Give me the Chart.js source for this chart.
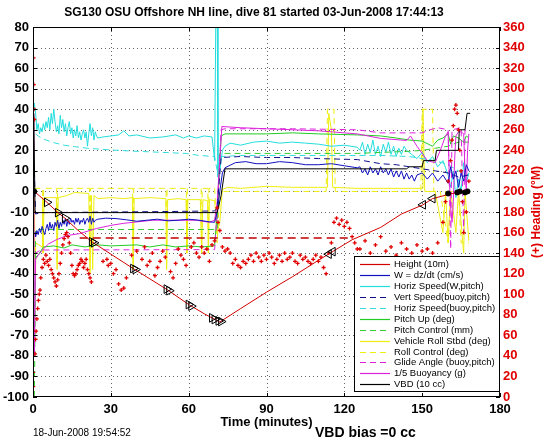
<!DOCTYPE html>
<html>
<head>
<meta charset="utf-8">
<script src="https://cdn.jsdelivr.net/npm/chart.js@4"></script>
<style>
  html, body { margin: 0; padding: 0; background: #fff; }
  canvas { display: block; }
</style>
</head>
<body>
<canvas id="diveChart" width="546" height="442"></canvas>
<script>
// Dive plot data, [time (min), value] pairs

const xTicks = [0, 30, 60, 90, 120, 150, 180];

const heightPts = [[0.5,0],[5.4,-5.3],[9.6,-10.3],[12.3,-13],[17,-18.5],[22.7,-24.5],[30,-30.5],[38.6,-37.5],[45,-42.5],[52,-48],[60,-55],[66,-59.5],[72,-63.5],[80,-57],[90,-49],[100,-41.5],[110,-33.5],[114.5,-30],[123,-23.5],[134,-17.5],[142,-11],[150.3,-6.5],[154,-3.5],[160,-1.5],[165,0],[168,0.5]];

const wPts = [[0.8,-20],[1,-22],[1.5,-19],[2,-21],[2.5,-18],[3,-20],[3.5,-17],[4,-19],[4.5,-21],[5,-18],[5.5,-16],[6,-19],[6.5,-15],[7,-18],[7.5,-16],[8,-19],[8.5,-15],[9,-17],[9.5,-14],[10,-18],[10.5,-15],[11,-17],[11.5,-14],[12,-16],[12.5,-13],[13,-17],[13.5,-14],[14,-16],[14.5,-13],[15,-15],[15.5,-14],[16,-16],[16.5,-13],[17,-15],[17.5,-13],[18,-16],[18.5,-14],[19,-15],[19.5,-13],[20,-16],[20.5,-14],[21,-13],[21.5,-15],[22,-12],[22.5,-16],[23,-13],[23.5,-15],[24,-14],[25,-13.5],[28,-13],[32,-13.2],[36,-13.8],[40,-14.5],[44,-14],[48,-13.5],[52,-14.3],[56,-14],[60,-13.5],[64,-14],[68,-14.8],[70,-15],[71,-10],[72,0],[73,9],[74,11.5],[78,14],[82,14.5],[86,13.5],[90,13.5],[95,14.5],[100,14],[105,13],[110,13],[115,13.5],[120,12.5],[125,11.5],[126,12],[127,9],[128,11],[129,8],[130,12],[131,9],[132,11],[133,8],[134,12],[135,9],[136,11],[137,8],[138,11],[139,7],[140,10],[141,7],[142,10],[143,6],[144,9],[145,6],[146,8],[147,5],[148,8],[150,9],[152,6],[154,9],[156,5],[158,8],[160,4],[161,12],[162,6],[163,10],[164,2],[165,9],[166,5],[167,13],[168,10]];

const horizSpeedPts = [[0.5,43],[1,38],[1.5,30],[2,33],[2.5,28],[3,31],[3.5,29],[4,33],[4.5,30],[5,34],[5.5,31],[6,36],[6.5,30],[7,38],[7.5,33],[8,40],[8.5,34],[9,29],[9.5,32],[10,28],[10.5,37],[11,31],[11.5,35],[12,29],[12.5,33],[13,27],[13.5,31],[14,34],[14.5,28],[15,31],[15.5,26],[16,30],[16.5,27],[17,32],[17.5,26],[18,29],[18.5,25],[19,28],[19.5,30],[20,26],[20.5,29],[21,22],[21.5,28],[22,33],[22.5,27],[23,31],[23.5,25],[24,29],[24.5,27],[25,26],[27,26.5],[30,27],[33,27.5],[35,29.5],[37,27],[40,27.5],[45,26],[50,26.5],[55,27.5],[58,26],[60,27],[63,26],[66,27],[69,26.5],[70,15],[70.5,90],[71,90],[71.3,7],[72,10],[73,20],[74,22],[76,23.5],[80,22.5],[85,24],[90,24.5],[95,23.5],[100,24],[105,23.5],[110,23],[115,22],[120,22.5],[125,21.5],[126,20],[127,24],[128,18],[129,23],[130,19],[131,25],[132,18],[133,22],[134,17],[135,23],[136,19],[137,24],[138,18],[139,22],[140,17],[141,21],[142,18],[143,22],[144,20],[146,18],[148,16],[150,19],[152,14],[154,17],[156,12],[158,15],[160,8],[161,2],[162,10],[163,-3],[164,6],[165,0],[166,14],[167,4],[168,9]];

const vertBuoyPts = [[0.5,10],[1,-11],[3,-10.3],[30,-10],[50,-9.8],[70,-9.5],[71,-8],[72.5,16.5],[80,17],[90,16.5],[100,16.5],[110,16],[125,15.5],[134,13.5],[140,13],[145,12],[150,11],[155,10],[160,9],[164,7],[168,8]];

const horizBuoyPts = [[1,28],[2,27],[4,25.5],[7.8,23.8],[12,22.5],[16,21.8],[21,21],[30,20.2],[38.6,19.6],[50,19],[59,18.5],[64,17.5],[70,17],[71,10],[72.5,17],[80,17.5],[125,17.5],[134,17.5],[145,17],[150,16],[155,15],[160,13],[164,10],[168,8]];

const pitchUpPts = [[0.5,-80],[1,-32],[2,-31],[4,-27],[8,-26.5],[12,-27.5],[15,-26],[20,-27],[25,-26],[30,-26.5],[40,-26],[45,-27],[50,-26],[55,-27],[60,-26.5],[65,-27],[70,-26.5],[71,-10],[72.5,27],[74,28],[90,28],[100,28.5],[110,28],[125,27.5],[134,27],[140,26],[145,25],[150,24.5],[154,22],[156,25],[158,26],[160,28],[161,23],[162,27],[164,26],[166,24],[167,27],[168,26]];

const pitchCtlPts = [[0.5,-100],[0.7,-80],[1,-18.5],[71,-18.5],[72,18.5],[125,18.5],[134,19],[145,19.5],[150,20],[155,21],[160,22],[164,24],[168,24]];

const rollPts = [[0.5,5],[0.8,-40],[1,-25],[3.5,-27],[3.7,-3],[3.9,-30],[4.3,-3],[9,-3],[9.3,-38],[9.7,-3],[13,-2],[16,-0.5],[21.5,-1],[22,-40],[22.5,-2],[23,-38],[23.5,-2],[25,-3.5],[30,-3],[35,-3.5],[38.3,-3],[38.6,-38],[39,-3.5],[45,-3],[51.2,-3.5],[51.5,-38],[51.9,-4],[56,-3.5],[59,-4],[59.3,-30],[59.7,-4],[64.5,-4],[65,-30],[65.5,-4],[67.3,-4.5],[67.6,-30],[68,-4],[70,-4.5],[71,-20],[72,-15],[73,1],[75,2],[80,1.5],[90,2.5],[100,2],[110,2],[113.5,2],[114,38],[115,30],[115.5,2],[125,1.5],[135,1.5],[145,1.5],[150,1.5],[150.3,40],[151,0],[155,0],[158,-20],[159,0],[160,-25],[161,0],[163,-20],[164,0],[166,-30],[166.5,0],[168,-24]];

const rollCtlPts = [[0.5,1.5],[3.7,1.5],[3.9,-30],[4.1,1.5],[9.1,1.5],[9.3,-35],[9.5,1.5],[21.8,1.5],[22,-35],[22.2,1.5],[38.4,1.5],[38.6,-35],[38.8,1.5],[51.3,1.5],[51.5,-35],[51.7,1.5],[59.1,1.5],[59.3,-30],[59.5,1.5],[64.8,1.5],[65,-30],[65.2,1.5],[67.4,1.5],[67.6,-30],[67.8,1.5],[70,1.5],[71,-25],[72,0],[75,0],[113,0],[113.5,40],[116,40],[116.5,0],[125,0],[149.5,0],[150,40],[154,40],[154.5,0],[157,0],[160,-25],[161,0],[164,0],[165,-25],[167,-25],[168,-25]];

const glidePts = [[0.5,-30],[1,-30],[3,-28.5],[70,-28.3],[71,-10],[72.5,30],[74,30.5],[100,30.5],[125,30],[134,28.5],[150,28.5],[153,30],[156,31],[160,30],[161,-28],[161.5,30],[165,31],[166,-20],[166.5,30],[168,29]];

const buoyancyPts = [[0.3,38],[0.5,-80],[1,-33],[2,-31],[4,-28],[6,-25.5],[9,-23.5],[13,-21.5],[18,-20.5],[24.5,-18],[30,-16.5],[35,-15.5],[46,-14],[55,-14],[63,-14],[68,-15],[70,-14],[71,-5],[72,15],[72.8,31.6],[80,31],[90,30.5],[100,30],[110,29.5],[125,28],[134,25.8],[144,24.8],[145.5,27],[148,22],[150,18.5],[152,15],[155,14],[157,20],[159,27],[160,29],[160.5,5],[161,-8],[161.5,-15],[162,-5],[162.5,15],[163,27],[164,29],[165,29],[166,28],[166.5,10],[167,0],[167.5,20],[168,28]];

const vbdPts = [[0.3,38],[0.8,-10.3],[71,-10.3],[72.5,-2],[74,11],[144,11],[145,12],[150,12],[150.5,15],[155,15],[155.5,20],[164,20],[164.3,30],[166.5,30],[167.3,38],[168.5,38]];

// heading in degrees magnetic (right axis)
const headingPts = [[0.2,330],[0.3,304],[0.4,280],[0.5,270],[0.1,24],[0.1,10],[0.8,42],[1,56],[1.2,64],[1.5,76],[1.8,86],[2.1,94],[2.4,100],[2.7,104],
  [3,116],[3.5,126],[4,134],[4.5,130],[5,138],[5.5,132],[6,128],[6.5,134],[7,124],[7.5,120],[8,116],[8.5,112],[9,108],[9.5,114],[10,120],[10.5,130],[11,140],[11.5,148],[12,154],[12.5,158],[13,160],[13.5,156],[14,150],[14.5,140],[15,128],[15.5,120],[16,118],[16.5,120],[17,124],[17.5,128],[18,130],[18.5,134],[19,132],[19.5,126],[20,130],[20.5,134],[21,124],[21.5,120],[22,116],[22.5,112],
  [27,132],[28.5,134],[29,128],[30,130],[31,120],[32,124],[33,110],[34,104],[35,106],[36,116],[38,138],[40,142],[42,134],[43,146],[44,128],[45,132],[46,140],[47,118],[48,126],[49,132],[50,142],[51,136],[53,122],[54,116],[55,130],[56,144],[57,138],[58,134],[59,128],[61,146],[62,150],[63,140],[64,136],[65,146],[66,140],[67,144],[68,132],[69,148],[70,152],[71,184],[71.3,170],[72,162],[73,146],[74,142],
  [75,144],[76,140],[77,130],[78,134],[79,128],[80,126],[81,132],[82,130],[83,134],[84,138],[85,132],[86,140],[87,136],[88,132],[89,138],[90,134],[91,140],[92,136],[93,130],[94,134],[95,138],[96,132],[97,140],[98,134],[99,136],[100,140],[101,132],[102,130],[103,138],[104,134],[105,136],[106,132],[107,130],[108,134],[109,138],[110,132],[111,136],[112,126],[113,120],[114,140],[115,150],[116,170],[117,174],[118,168],[119,172],[120,166],[121,170],[122,164],[123,156],[124,150],[125,144],
  [126,144],[128,152],[130,140],[132,148],[134,156],[136,142],[138,146],[140,138],[142,150],[144,144],[146,140],[148,148],[150,142],[152,144],[154,140],[156,150],
  [158,170],[159,190],[160,210],[161,230],[161.5,250],[162,264],[162.5,280],[163,284],[163.5,276],[164,260],[164.5,240],[165,220],[165.5,190],[166,160],[166.2,130],[166.4,100],[166.6,76],[166.8,64],[167,180],[167.5,200],[168,210]];

const targetDepthPts = [[18,-22.7],[123,-22.7]];
const markersDownPts = [[5.4,-5.3],[9.6,-10.3],[12.3,-13],[22.7,-24.5],[23.5,-25],[38.6,-37.5],[39.5,-38],[51.5,-47.5],[52.5,-48.3],[60,-55],[61,-55.8],[69,-61.5],[70,-62.3],[71.5,-63],[72.5,-63.3]];
const markersUpPts = [[114,-30.5],[115.5,-29.3],[150.3,-6.5],[154,-3.5]];
const surfacePts = [[0.5,0],[160,-1],[163.5,-0.5],[164.5,0],[166.5,-0.5],[167.5,0]];

const xy = pts => pts.map(([x, y]) => ({ x, y }));

function line(label, pts, color, dash, order, inLegend = true) {
  return {
    label: label,
    data: xy(pts),
    showLine: true,
    borderColor: color,
    backgroundColor: color,
    borderWidth: 1,
    borderDash: dash || [],
    pointRadius: 0,
    yAxisID: 'y',
    order: order,
    inLegend: inLegend
  };
}

const DASH = [6, 4];
const datasets = [
  line('Height (10m)', heightPts, '#d40000', null, 2),
  line('W = dz/dt (cm/s)', wPts, '#1010c0', null, 5),
  line('Horiz Speed(W,pitch)', horizSpeedPts, '#22dddd', null, 9),
  line('Vert Speed(buoy,pitch)', vertBuoyPts, '#10108c', DASH, 6),
  line('Horiz Speed(buoy,pitch)', horizBuoyPts, '#33dddd', DASH, 10),
  line('Pitch Up (deg)', pitchUpPts, '#22cc22', null, 7),
  line('Pitch Control (mm)', pitchCtlPts, '#33cc33', DASH, 8),
  line('Vehicle Roll Stbd (deg)', rollPts, '#eeee10', null, 12),
  line('Roll Control (deg)', rollCtlPts, '#eeee10', DASH, 11),
  line('Glide Angle (buoy,pitch)', glidePts, '#dd22dd', DASH, 6),
  line('1/5 Buoyancy (g)', buoyancyPts, '#dd22dd', null, 6),
  line('VBD (10 cc)', vbdPts, '#000000', null, 4),
  Object.assign(line('target', targetDepthPts, '#c00000', [8, 5], 3, false), { borderWidth: 1.5 }),
  {
    label: 'heading', data: xy(headingPts), showLine: false, yAxisID: 'y2',
    pointStyle: 'cross', pointRadius: 2, borderColor: '#e00000', borderWidth: 1.3, order: 1
  },
  {
    label: 'down', data: xy(markersDownPts), showLine: false, yAxisID: 'y',
    pointStyle: 'triangle', pointRotation: 90, pointRadius: 5,
    backgroundColor: 'rgba(0,0,0,0)', borderColor: '#000', borderWidth: 1, order: 0
  },
  {
    label: 'up', data: xy(markersUpPts), showLine: false, yAxisID: 'y',
    pointStyle: 'triangle', pointRotation: -90, pointRadius: 5,
    backgroundColor: 'rgba(0,0,0,0)', borderColor: '#000', borderWidth: 1, order: 0
  },
  {
    label: 'surface', data: xy(surfacePts), showLine: false, yAxisID: 'y',
    pointStyle: 'circle', pointRadius: 2.5, backgroundColor: '#000', borderColor: '#000', order: 0
  }
];

const FONT = '"Liberation Sans", Arial, sans-serif';

// Dotted grid under the data
const dottedGrid = {
  id: 'dottedGrid',
  beforeDatasetsDraw(chart) {
    const ctx = chart.ctx;
    const a = chart.chartArea;
    const sx = chart.scales.x, sy = chart.scales.y;
    ctx.save();
    ctx.strokeStyle = 'rgba(0,0,0,0.6)';
    ctx.lineWidth = 1;
    ctx.setLineDash([1, 3]);
    ctx.beginPath();
    xTicks.slice(1, -1).forEach(t => {
      const px = Math.round(sx.getPixelForValue(t)) + 0.5;
      ctx.moveTo(px, a.top); ctx.lineTo(px, a.bottom);
    });
    for (let v = -90; v <= 70; v += 10) {
      const py = Math.round(sy.getPixelForValue(v)) + 0.5;
      ctx.moveTo(a.left, py); ctx.lineTo(a.right, py);
    }
    ctx.stroke();
    ctx.restore();
  }
};

// Title, footer texts, plot box, inward ticks, right axis label
const frame = {
  id: 'frame',
  afterDraw(chart) {
    const ctx = chart.ctx;
    const a = chart.chartArea;
    const sx = chart.scales.x, sy = chart.scales.y, sy2 = chart.scales.y2;
    ctx.save();
    ctx.strokeStyle = '#000';
    ctx.lineWidth = 1;
    ctx.strokeRect(a.left + 0.5, a.top + 0.5, a.right - a.left - 1, a.bottom - a.top - 1);
    ctx.beginPath();
    xTicks.forEach(t => {
      const px = Math.round(sx.getPixelForValue(t)) + 0.5;
      ctx.moveTo(px, a.top); ctx.lineTo(px, a.top + 4);
      ctx.moveTo(px, a.bottom); ctx.lineTo(px, a.bottom - 4);
    });
    for (let v = -100; v <= 80; v += 10) {
      const py = Math.round(sy.getPixelForValue(v)) + 0.5;
      ctx.moveTo(a.left, py); ctx.lineTo(a.left + 4, py);
    }
    for (let v = 0; v <= 360; v += 20) {
      const py = Math.round(sy2.getPixelForValue(v)) + 0.5;
      ctx.moveTo(a.right, py); ctx.lineTo(a.right - 4, py);
    }
    ctx.stroke();

    ctx.fillStyle = '#000';
    ctx.textBaseline = 'middle';
    ctx.textAlign = 'center';
    ctx.font = 'bold 12px ' + FONT;
    ctx.fillText('SG130 OSU Offshore NH line, dive 81 started 03-Jun-2008 17:44:13', 254, 13);
    ctx.textAlign = 'left';
    ctx.font = '10px ' + FONT;
    ctx.fillText('18-Jun-2008 19:54:52', 33, 433);
    ctx.font = 'bold 14px ' + FONT;
    ctx.fillText('VBD bias =0 cc', 315, 433);

    ctx.translate(537, (a.top + a.bottom) / 2);
    ctx.rotate(-Math.PI / 2);
    ctx.textAlign = 'center';
    ctx.fillStyle = '#e00000';
    ctx.font = 'bold 12px ' + FONT;
    ctx.fillText('(+) Heading (°M)', 0, 0);
    ctx.restore();
  }
};

// Legend box inside the plot, bottom right
const legendBox = {
  id: 'legendBox',
  afterDraw(chart) {
    const ctx = chart.ctx;
    const items = chart.data.datasets.filter(d => d.inLegend);
    const x0 = 354, y0 = 256, w = 145, h = 135;
    ctx.save();
    ctx.fillStyle = '#fff';
    ctx.fillRect(x0, y0, w, h);
    ctx.strokeStyle = '#000';
    ctx.lineWidth = 1;
    ctx.strokeRect(x0 + 0.5, y0 + 0.5, w, h);
    ctx.font = '9.5px ' + FONT;
    ctx.textBaseline = 'middle';
    items.forEach((d, i) => {
      const y = Math.round(y0 + 8 + i * 10.94) + 0.5;
      ctx.strokeStyle = d.borderColor;
      ctx.lineWidth = 1.2;
      ctx.setLineDash(d.borderDash);
      ctx.beginPath();
      ctx.moveTo(x0 + 6, y);
      ctx.lineTo(x0 + 36, y);
      ctx.stroke();
      ctx.setLineDash([]);
      ctx.fillStyle = '#000';
      ctx.fillText(d.label, x0 + 40, y);
    });
    ctx.restore();
  }
};

const tickFont = { family: FONT, size: 13, weight: 'bold' };

new Chart(document.getElementById('diveChart'), {
  type: 'scatter',
  data: { datasets: datasets },
  options: {
    responsive: false,
    animation: false,
    layout: { padding: { top: 27, left: 0, right: 0, bottom: 0 } },
    plugins: {
      legend: { display: false },
      tooltip: { enabled: false }
    },
    scales: {
      x: {
        type: 'linear', min: 0, max: 180,
        afterBuildTicks: s => { s.ticks = xTicks.map(v => ({ value: v })); },
        afterFit: s => { s.height = 45; },
        grid: { display: false, drawTicks: false },
        border: { display: false },
        ticks: { color: '#000', font: tickFont, padding: 5, maxRotation: 0 },
        title: {
          display: true, text: 'Time (minutes)', color: '#000',
          font: tickFont, padding: { top: 0, bottom: 12 }
        }
      },
      y: {
        type: 'linear', position: 'left', min: -100, max: 80,
        afterFit: s => { s.width = 33; },
        grid: { display: false, drawTicks: false },
        border: { display: false },
        ticks: { stepSize: 10, color: '#000', font: tickFont, padding: 4 }
      },
      y2: {
        type: 'linear', position: 'right', min: 0, max: 360,
        afterFit: s => { s.width = 46; },
        grid: { display: false, drawTicks: false },
        border: { display: false },
        ticks: { stepSize: 20, color: '#e00000', font: tickFont, padding: 3 }
      }
    }
  },
  plugins: [dottedGrid, frame, legendBox]
});
</script>
</body>
</html>
